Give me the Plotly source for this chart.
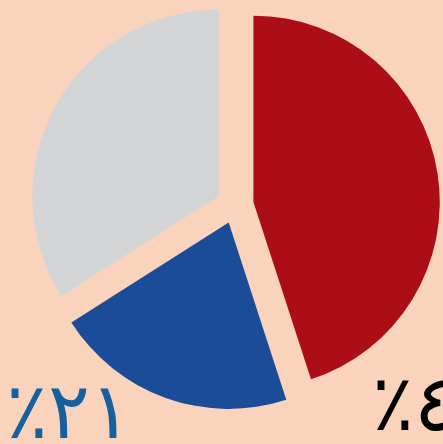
import plotly.graph_objects as go

categories = ["أحمر", "أزرق", "رمادي"]
values = [45, 21, 34]
colors = ["#AC0E18", "#1A4C98", "#D2D4D6"]
labels_text = ["٪٢١", "٪٤٥"]

W, H = 443, 444
fig = go.Figure(go.Pie(
    labels=categories,
    values=values,
    sort=False,
    direction="clockwise",
    rotation=0,
    pull=[0.1, 0.1, 0.1],
    marker=dict(colors=colors, line=dict(width=0)),
    textinfo="none",
    hoverinfo="none",
    domain=dict(x=[27 / W, 1], y=[1 - 410 / H, 1]),
))

fig.add_annotation(x=4 / W, y=1 - 458 / H, xref="paper", yref="paper",
                   xanchor="left", yanchor="bottom", text=labels_text[0],
                   showarrow=False, font=dict(family="DejaVu Sans", size=78, color="#15609F"))
fig.add_annotation(x=370 / W, y=1 - 450 / H, xref="paper", yref="paper",
                   xanchor="left", yanchor="bottom", text=labels_text[1],
                   showarrow=False, font=dict(family="DejaVu Sans", size=78, color="#000000"))

fig.update_layout(width=W, height=H, margin=dict(l=0, r=0, t=0, b=0),
                  paper_bgcolor="#FAD3BD", plot_bgcolor="#FAD3BD", showlegend=False)
fig.write_html("out.html", config={"displayModeBar": False},
               post_script="document.body.style.margin='0';document.body.style.background='#FAD3BD';")
